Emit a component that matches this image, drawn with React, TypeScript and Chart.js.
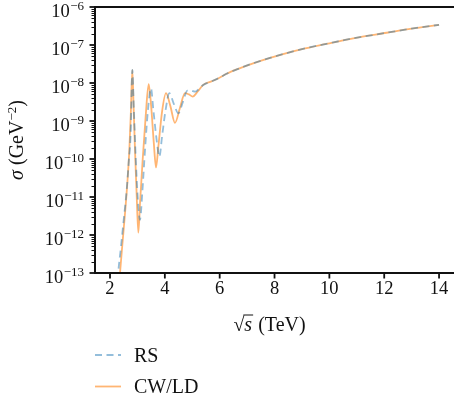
import React, { useEffect, useRef } from "react";
import { Chart, registerables } from "chart.js";

Chart.register(...registerables);

// ---- data ----
const xTickValues = [2, 4, 6, 8, 10, 12, 14];
const yTickExponents = [-13, -12, -11, -10, -9, -8, -7, -6];

const rsLabel = "RS";
const rsX = [2.26, 2.30, 2.389, 2.50, 2.608, 2.68, 2.754, 2.814, 2.87, 2.94, 3.01, 3.094, 3.18, 3.276, 3.38, 3.495, 3.58, 3.70, 3.80, 3.90, 4.03, 4.163, 4.33, 4.49, 4.66, 4.82, 4.96, 5.10, 5.25, 5.40, 5.70, 6.01, 6.25, 6.70, 7.22, 8.31, 9.00, 9.89, 10.87, 12.09, 13.0, 14.0];
const rsY = [3.2e-14, 1.0e-13, 4.1e-13, 2.5e-12, 1.5e-11, 7.9e-11, 4.8e-10, 2.2e-8, 2.0e-9, 1.0e-10, 1.0e-11, 2.5e-12, 1.4e-11, 1.7e-10, 1.8e-9, 7.2e-9, 2.0e-9, 3.2e-10, 1.15e-10, 4.0e-10, 2.0e-9, 5.4e-9, 2.8e-9, 1.6e-9, 3.2e-9, 6.3e-9, 6.3e-9, 5.9e-9, 7.1e-9, 8.9e-9, 1.1e-8, 1.4e-8, 1.75e-8, 2.4e-8, 3.3e-8, 5.75e-8, 7.8e-8, 1.07e-7, 1.5e-7, 2.1e-7, 2.7e-7, 3.4e-7];

const cwLabel = "CW/LD";
const cwX = [2.30, 2.365, 2.45, 2.547, 2.63, 2.705, 2.76, 2.814, 2.86, 2.912, 2.97, 3.033, 3.10, 3.19, 3.30, 3.41, 3.50, 3.60, 3.678, 3.76, 3.90, 4.042, 4.20, 4.37, 4.55, 4.735, 4.88, 5.015, 5.20, 5.40, 5.70, 6.01, 6.25, 6.70, 7.22, 8.31, 9.00, 9.89, 10.87, 12.09, 13.0, 14.0];
const cwY = [2.8e-14, 1.0e-13, 5.6e-13, 3.7e-12, 2.2e-11, 1.7e-10, 1.6e-9, 2.2e-8, 2.5e-9, 1.7e-10, 1.3e-11, 1.15e-12, 7.9e-12, 9.3e-11, 1.3e-9, 9.3e-9, 2.5e-9, 2.5e-10, 6.0e-11, 2.0e-10, 1.8e-9, 5.4e-9, 2.5e-9, 8.9e-10, 2.2e-9, 5.4e-9, 5.0e-9, 4.4e-9, 6.0e-9, 8.9e-9, 1.1e-8, 1.4e-8, 1.75e-8, 2.4e-8, 3.3e-8, 5.75e-8, 7.8e-8, 1.07e-7, 1.5e-7, 2.1e-7, 2.7e-7, 3.4e-7];

const xMin = 1.453;
const xMax = 14.545;
const yMin = 1e-13;
const yMax = 1e-6;

const SERIF = '"Liberation Serif", serif';
const INK = "#111111";
const TICK_PX = 18.5;
const SUP_PX = 13;
const TITLE_PX = 20;
const LEGEND_PX = 20;

const toPoints = (xs: number[], ys: number[]) => xs.map((x, i) => ({ x, y: ys[i] }));

const mplPlugin = {
  id: "mplAxes",
  afterDatasetsDraw(chart: any) {
    const ctx: CanvasRenderingContext2D = chart.ctx;
    const { left, right, top, bottom } = chart.chartArea;
    const xs = chart.scales.x;
    const ys = chart.scales.y;
    ctx.save();
    ctx.strokeStyle = INK;
    ctx.fillStyle = INK;

    // minor y ticks
    ctx.lineWidth = 1;
    for (let i = 0; i < yTickExponents.length - 1; i++) {
      const e = yTickExponents[i];
      for (let m = 2; m <= 9; m++) {
        const py = Math.round(ys.getPixelForValue(m * Math.pow(10, e))) + 0.5;
        ctx.beginPath();
        ctx.moveTo(left - 3.5, py);
        ctx.lineTo(left, py);
        ctx.stroke();
      }
    }
    // major y ticks + labels
    ctx.lineWidth = 1.8;
    yTickExponents.forEach((e) => {
      const py = ys.getPixelForValue(Math.pow(10, e));
      ctx.beginPath();
      ctx.moveTo(left - 5.5, py);
      ctx.lineTo(left, py);
      ctx.stroke();
      const expText = "\u2212" + String(Math.abs(e));
      ctx.font = `${SUP_PX}px ${SERIF}`;
      const ew = ctx.measureText(expText).width;
      ctx.textAlign = "left";
      ctx.textBaseline = "alphabetic";
      const rightEdge = left - 11;
      ctx.fillText(expText, rightEdge - ew, py + 3);
      ctx.font = `${TICK_PX}px ${SERIF}`;
      const bw = ctx.measureText("10").width;
      ctx.fillText("10", rightEdge - ew - bw - 0.5, py + 9.5);
    });

    // x ticks + labels
    ctx.lineWidth = 1.8;
    ctx.font = `${TICK_PX}px ${SERIF}`;
    ctx.textAlign = "center";
    ctx.textBaseline = "alphabetic";
    xTickValues.forEach((v) => {
      const px = xs.getPixelForValue(v);
      ctx.beginPath();
      ctx.moveTo(px, bottom);
      ctx.lineTo(px, bottom + 5.5);
      ctx.stroke();
      ctx.fillText(String(v), px, bottom + 21);
    });

    // frame
    ctx.lineWidth = 2;
    ctx.strokeRect(left, top, right - left + 6, bottom - top);

    // x title: √s (TeV)
    ctx.textAlign = "left";
    ctx.font = `${TITLE_PX}px ${SERIF}`;
    const sqrtW = ctx.measureText("\u221A").width;
    ctx.font = `italic ${TITLE_PX}px ${SERIF}`;
    const sW = ctx.measureText("s").width;
    ctx.font = `${TITLE_PX}px ${SERIF}`;
    const restW = ctx.measureText(" (TeV)").width;
    const totalW = sqrtW + sW + 1 + restW;
    const tx = 269.5 - totalW / 2;
    const tb = 331;
    ctx.fillText("\u221A", tx, tb);
    const barY = tb - TITLE_PX * 0.8;
    ctx.font = `italic ${TITLE_PX}px ${SERIF}`;
    ctx.fillText("s", tx + sqrtW, tb);
    ctx.lineWidth = 1;
    ctx.beginPath();
    ctx.moveTo(tx + sqrtW - 1, barY);
    ctx.lineTo(tx + sqrtW + sW + 1, barY);
    ctx.stroke();
    ctx.font = `${TITLE_PX}px ${SERIF}`;
    ctx.fillText(" (TeV)", tx + sqrtW + sW + 1, tb);

    // y title: σ (GeV^−2)
    ctx.save();
    ctx.translate(23, (top + bottom) / 2);
    ctx.rotate(-Math.PI / 2);
    ctx.font = `italic ${TITLE_PX}px ${SERIF}`;
    const sigW = ctx.measureText("\u03C3").width;
    ctx.font = `${TITLE_PX}px ${SERIF}`;
    const gevW = ctx.measureText(" (GeV").width;
    const closeW = ctx.measureText(")").width;
    ctx.font = `${SUP_PX}px ${SERIF}`;
    const supW = ctx.measureText("\u22122").width;
    const yw = sigW + gevW + supW + closeW;
    let yx = -yw / 2;
    ctx.textAlign = "left";
    ctx.textBaseline = "alphabetic";
    ctx.font = `italic ${TITLE_PX}px ${SERIF}`;
    ctx.fillText("\u03C3", yx, 0);
    yx += sigW;
    ctx.font = `${TITLE_PX}px ${SERIF}`;
    ctx.fillText(" (GeV", yx, 0);
    yx += gevW;
    ctx.font = `${SUP_PX}px ${SERIF}`;
    ctx.fillText("\u22122", yx, -7);
    yx += supW;
    ctx.font = `${TITLE_PX}px ${SERIF}`;
    ctx.fillText(")", yx, 0);
    ctx.restore();

    // legend
    const rows = [355, 386.5];
    chart.data.datasets.forEach((ds: any, i: number) => {
      const y = rows[i];
      ctx.save();
      ctx.strokeStyle = ds.borderColor;
      ctx.lineWidth = ds.borderWidth;
      ctx.setLineDash(ds.borderDash || []);
      ctx.beginPath();
      ctx.moveTo(95, y);
      ctx.lineTo(121, y);
      ctx.stroke();
      ctx.restore();
      ctx.fillStyle = INK;
      ctx.font = `${LEGEND_PX}px ${SERIF}`;
      ctx.textAlign = "left";
      ctx.textBaseline = "alphabetic";
      ctx.fillText(ds.label, 134, y + 6.5);
    });

    ctx.restore();
  },
};

export default function App() {
  const canvasRef = useRef<HTMLCanvasElement | null>(null);

  useEffect(() => {
    let chart: Chart | null = null;
    let cancelled = false;
    const build = () => {
      if (cancelled || !canvasRef.current) return;
      chart = new Chart(canvasRef.current, {
        type: "line",
        data: {
          datasets: [
            {
              label: rsLabel,
              data: toPoints(rsX, rsY),
              borderColor: "rgba(31,119,180,0.48)",
              borderWidth: 1.8,
              borderDash: [7, 4.5],
              pointRadius: 0,
              cubicInterpolationMode: "monotone",
              fill: false,
              clip: 0,
            },
            {
              label: cwLabel,
              data: toPoints(cwX, cwY),
              borderColor: "rgba(255,127,14,0.58)",
              borderWidth: 1.8,
              pointRadius: 0,
              cubicInterpolationMode: "monotone",
              fill: false,
              clip: 0,
            },
          ],
        },
        options: {
          animation: false,
          responsive: false,
          maintainAspectRatio: false,
          layout: { padding: { left: 95, top: 7, right: 0, bottom: 129 } },
          plugins: { legend: { display: false }, tooltip: { enabled: false } },
          scales: {
            x: { type: "linear", min: xMin, max: xMax, display: false },
            y: { type: "logarithmic", min: yMin, max: yMax, display: false },
          },
        },
        plugins: [mplPlugin],
      } as any);
    };
    const fonts = (document as any).fonts;
    if (fonts && fonts.load) {
      Promise.all([
        fonts.load(`17px "Liberation Serif"`),
        fonts.load(`italic 17px "Liberation Serif"`),
      ]).then(build, build);
    } else {
      build();
    }
    return () => {
      cancelled = true;
      if (chart) chart.destroy();
    };
  }, []);

  return (
    <div style={{ position: "absolute", left: 0, top: 0, width: 454, height: 402, background: "#fff" }}>
      <canvas ref={canvasRef} width={454} height={402} style={{ display: "block" }} />
    </div>
  );
}
